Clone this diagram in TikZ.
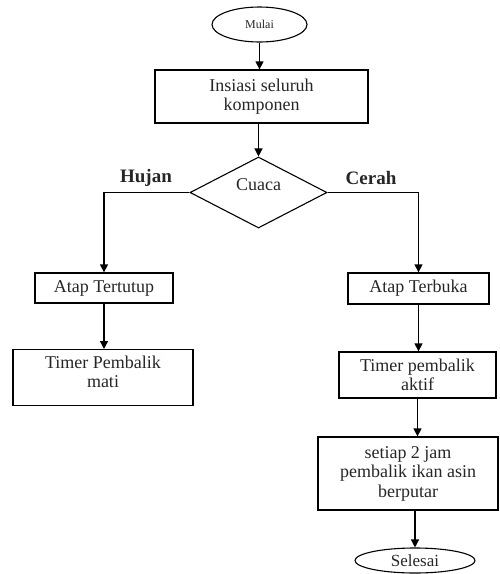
\documentclass[tikz,border=0pt]{standalone}
\usepackage{fontspec}
\setmainfont{Liberation Serif}
\usetikzlibrary{shapes.geometric,arrows.meta}
\begin{document}
\begin{tikzpicture}[x=1pt,y=-1pt,
  every node/.style={font=\fontsize{18}{19.5}\selectfont, text=black!85, align=center},
  box/.style={draw, line width=1.3pt, rectangle, inner sep=0pt},
  oval/.style={draw, line width=1.1pt, ellipse, inner sep=0pt},
  dec/.style={draw, line width=1.1pt, diamond, inner sep=0pt, minimum width=137pt, minimum height=71pt},
  lbl/.style={font=\fontsize{19}{21}\selectfont\bfseries},
  arr/.style={line width=1.3pt, -{Triangle[length=8pt,width=8pt]}}]
\useasboundingbox (0,0) rectangle (500,574);
\node[oval, minimum width=95pt, minimum height=35pt, font=\fontsize{12}{14}\selectfont] (mulai) at (259.5,24.5) {Mulai};
\node[box, minimum width=213pt, minimum height=53pt] (init) at (261.5,96.5) {Insiasi seluruh\\komponen};
\node[dec] (cuaca) at (258.5,192.5) {};
\node (cuacat) at (258.5,185) {Cuaca};
\node[lbl] (hujan) at (146,178) {Hujan};
\node[lbl] (cerah) at (371,178) {Cerah};
\node[box, minimum width=138pt, minimum height=30pt] (tutup) at (104,288) {Atap Tertutup};
\node[box, minimum width=141pt, minimum height=31pt] (buka) at (418.5,288.5) {Atap Terbuka};
\node[box, minimum width=180pt, minimum height=56pt, anchor=north] (mati) at (103,349) {};
\node (matit) at (103,372) {Timer Pembalik\\mati};
\node[box, minimum width=157pt, minimum height=46pt] (aktif) at (417.5,375) {Timer pembalik\\aktif};
\node[box, minimum width=180pt, minimum height=73pt] (setiap) at (408,473.5) {setiap 2 jam\\pembalik ikan asin\\berputar};
\node[oval, minimum width=120pt, minimum height=25pt, font=\fontsize{17}{19}\selectfont] (selesai) at (415,560.5) {Selesai};
\draw[arr] (mulai.south) -- (mulai.south |- init.north);
\draw[arr] (cuaca.north |- init.south) -- (cuaca.north);
\draw[arr] (cuaca.west) -| (tutup.north);
\draw[arr] (cuaca.east) -| (buka.north);
\draw[arr] (tutup.south) -- (tutup.south |- mati.north);
\draw[arr] (buka.south) -- (buka.south |- aktif.north);
\draw[arr] (aktif.south) -- (aktif.south |- setiap.north);
\draw[arr] (selesai.north |- setiap.south) -- (selesai.north);
\end{tikzpicture}
\end{document}
